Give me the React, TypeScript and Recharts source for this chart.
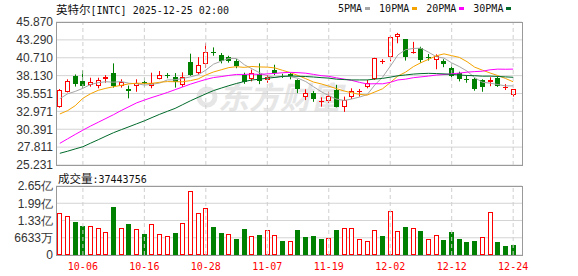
import React from 'react';
import { ComposedChart, BarChart, Bar, Line, XAxis, YAxis, CartesianGrid, ReferenceLine } from 'recharts';

const dates = [
  '10-01','10-02','10-03','10-06','10-07','10-08','10-09','10-10','10-13','10-14',
  '10-15','10-16','10-17','10-20','10-21','10-22','10-23','10-24','10-27','10-28',
  '10-29','10-30','10-31','11-03','11-04','11-05','11-06','11-07','11-10','11-11',
  '11-12','11-13','11-14','11-17','11-18','11-19','11-20','11-21','11-24','11-25',
  '11-26','11-28','12-01','12-02','12-03','12-04','12-05','12-08','12-09','12-10',
  '12-11','12-12','12-15','12-16','12-17','12-18','12-19','12-22','12-23','12-24',
];

const opens = [
  33.65, 35.81, 38.03, 37.35, 36.78, 36.68, 37.7, 38.5, 36.7, 36.15,
  36.6, 37.2, 36.6, 37.7, 38.22, 37.98, 36.8, 40.05, 38.55, 39.75,
  41.55, 41.1, 40.75, 40.2, 38.2, 37.6, 38.4, 37.5, 39.0, 38.12,
  38.4, 37.5, 35.1, 35.6, 34.4, 34.4, 36.1, 33.65, 35.1, 35.7,
  36.45, 37.7, 40.1, 40.8, 43.65, 43.35, 41.35, 42.05, 40.85, 40.4,
  40.2, 39.3, 38.45, 37.6, 37.6, 37.5, 37.25, 37.8, 36.4, 35.35,
];
const highs = [
  36.2, 37.6, 38.3, 38.9, 37.83, 37.83, 38.2, 39.9, 37.6, 36.7,
  37.6, 37.85, 38.55, 38.8, 38.5, 38.5, 38.6, 41.3, 40.8, 42.8,
  42.2, 41.4, 41.0, 40.5, 38.55, 39.0, 39.9, 38.2, 39.7, 38.4,
  38.5, 37.6, 36.15, 35.9, 35.0, 35.8, 36.8, 35.1, 36.3, 36.2,
  37.5, 40.7, 40.5, 43.95, 44.3, 43.4, 43.0, 42.3, 41.25, 41.2,
  40.5, 39.9, 38.7, 38.1, 37.8, 37.6, 37.9, 38.0, 36.9, 36.2,
];
const lows = [
  33.5, 35.7, 36.55, 36.3, 36.53, 36.3, 37.1, 36.4, 36.4, 34.85,
  35.8, 36.5, 36.3, 37.6, 37.75, 36.4, 36.5, 38.1, 38.3, 39.3,
  41.0, 39.9, 40.0, 39.2, 36.95, 37.3, 36.9, 37.1, 38.2, 37.8,
  37.6, 35.6, 34.6, 34.35, 33.65, 34.2, 33.55, 32.9, 34.75, 35.1,
  36.3, 37.5, 39.8, 40.2, 42.8, 40.3, 41.3, 40.0, 40.3, 39.05,
  39.35, 37.9, 37.3, 37.1, 35.95, 35.8, 36.6, 36.5, 36.05, 35.1,
];
const closes = [
  36.06, 37.35, 36.97, 36.68, 37.17, 37.44, 38.0, 36.6, 37.2, 35.9,
  37.1, 37.05, 37.1, 38.15, 38.17, 37.2, 38.0, 38.25, 39.6, 41.6,
  41.45, 40.2, 40.25, 39.5, 37.15, 38.5, 37.3, 38.0, 38.45, 38.05,
  38.1, 36.15, 35.65, 34.75, 34.5, 35.2, 33.65, 34.6, 35.85, 35.85,
  37.0, 40.65, 40.2, 43.65, 44.1, 40.75, 41.55, 40.4, 40.7, 40.9,
  39.75, 38.1, 37.7, 37.45, 36.15, 36.45, 37.5, 36.65, 36.5, 36.15,
];
const volumes = [
  162600000, 149800000, 128000000, 112700000, 111400000, 103700000, 88300000, 185600000, 103700000, 119000000,
  99900000, 81900000, 119000000, 80700000, 73000000, 85800000, 124200000, 245800000, 161300000, 180500000,
  107500000, 85800000, 81900000, 61400000, 99900000, 73000000, 76800000, 96000000, 75500000, 55000000,
  55000000, 96000000, 69100000, 73000000, 61400000, 65300000, 96000000, 102400000, 102400000, 60200000,
  53800000, 96000000, 73000000, 169000000, 92200000, 107500000, 102400000, 92200000, 61400000, 76800000,
  57600000, 88300000, 61400000, 49900000, 53800000, 69100000, 165100000, 49900000, 34600000, 37443756,
];
const ma5 = [
  34.8, 35.5, 35.85, 36.3, 36.85, 37.12, 37.25, 37.18, 37.28, 37.03,
  36.96, 36.77, 36.87, 37.06, 37.51, 37.53, 37.72, 37.95, 38.24, 38.93,
  39.78, 40.22, 40.62, 40.6, 39.71, 39.12, 38.54, 38.09, 37.88, 38.06,
  37.98, 37.75, 37.28, 36.54, 35.83, 35.25, 34.75, 34.54, 34.76, 35.03,
  35.39, 36.79, 37.91, 39.47, 41.12, 41.87, 42.05, 42.09, 41.5, 40.86,
  40.66, 39.97, 39.43, 38.78, 37.83, 37.17, 37.05, 36.84, 36.65, 36.65,
];
const ma10 = [
  32.6, 33.07, 33.79, 34.86, 35.52, 36.01, 36.3, 36.53, 36.73, 36.94,
  37.04, 37.01, 37.02, 37.17, 37.27, 37.25, 37.25, 37.41, 37.65, 38.22,
  38.66, 38.97, 39.29, 39.42, 39.32, 39.45, 39.38, 39.36, 39.24, 38.89,
  38.56, 38.15, 37.69, 37.21, 36.94, 36.61, 36.25, 35.91, 35.65, 35.43,
  35.32, 35.77, 36.23, 37.12, 38.08, 38.63, 39.42, 40.0, 40.49, 40.99,
  41.27, 41.01, 40.76, 40.14, 39.35, 38.92, 38.51, 38.14, 37.72, 37.24,
];
const ma20 = [
  28.36, 29.0, 29.64, 30.26, 30.85, 31.4, 31.95, 32.5, 33.1, 33.65,
  34.2, 34.6, 34.98, 35.33, 35.7, 36.1, 36.5, 36.9, 37.25, 37.58,
  37.85, 37.99, 38.16, 38.3, 38.3, 38.35, 38.31, 38.38, 38.45, 38.55,
  38.6, 38.56, 38.48, 38.31, 38.13, 38.03, 37.81, 37.63, 37.44, 37.16,
  36.93, 36.96, 36.95, 37.16, 37.51, 37.62, 37.83, 37.95, 38.07, 38.21,
  38.29, 38.39, 38.49, 38.63, 38.71, 38.77, 38.97, 39.07, 39.05, 39.07,
];
const ma30 = [
  26.92, 27.22, 27.55, 27.87, 28.38, 28.88, 29.4, 29.9, 30.33, 30.75,
  31.18, 31.6, 32.08, 32.55, 32.98, 33.4, 33.95, 34.5, 35.0, 35.5,
  35.97, 36.33, 36.68, 37.0, 37.28, 37.5, 37.62, 37.75, 37.88, 38.01,
  38.08, 38.04, 38.0, 37.93, 37.84, 37.77, 37.62, 37.56, 37.51, 37.51,
  37.51, 37.63, 37.73, 37.91, 38.11, 38.23, 38.35, 38.42, 38.46, 38.43,
  38.38, 38.31, 38.22, 38.15, 38.12, 38.05, 38.06, 38.01, 37.95, 37.89,
];

const xTicks = ['10-06', '10-16', '10-28', '11-07', '11-19', '12-02', '12-12', '12-24'];
const priceTickLabels = ['25.231', '27.811', '30.391', '32.971', '35.551', '38.130', '40.710', '43.290', '45.870'];
const volTicks = [0, 66330000, 132660000, 198990000, 265320000];
const volTickLabels = ['0', '6633万', '1.33亿', '1.99亿', '2.65亿'];

const title = '英特尔';
const titleRest = '[INTC] 2025-12-25 02:00';
const volLabel = '成交量';
const lastVolume = '37443756';

const UP = '#ff0000';
const DOWN = '#008000';
const series = [
  { key: 'ma5', name: '5PMA', color: '#a6a6a6' },
  { key: 'ma10', name: '10PMA', color: '#f5a300' },
  { key: 'ma20', name: '20PMA', color: '#ff00ff' },
  { key: 'ma30', name: '30PMA', color: '#006a2a' },
];

const priceTicks = priceTickLabels.map(Number);
const data = dates.map((date, i) => ({
  date,
  open: opens[i],
  high: highs[i],
  low: lows[i],
  close: closes[i],
  range: [lows[i], highs[i]],
  vol: volumes[i],
  volUp: i === 0 ? closes[i] >= opens[i] : closes[i] >= closes[i - 1],
  ma5: ma5[i],
  ma10: ma10[i],
  ma20: ma20[i],
  ma30: ma30[i],
}));

const MONO = '"DejaVu Sans Mono", monospace';
const CJK = '"Noto Sans CJK SC", sans-serif';
const SANS = '"Liberation Sans", Arial, sans-serif';

function Candle(props: any) {
  const { x, y, width, height, payload } = props;
  if (x == null || y == null || !payload) return null;
  const top = Math.min(y, y + height);
  const h = Math.abs(height);
  const { open, close, high, low } = payload;
  const span = high - low;
  const py = (p: number) => (span > 0 ? top + ((high - p) / span) * h : top);
  const cx = x + width / 2;
  const left = Math.round(cx - 2.5);
  const wx = left + 2.5;
  const up = close >= open;
  const color = up ? UP : DOWN;
  const bTop = Math.round(py(Math.max(open, close)));
  const bBot = Math.round(py(Math.min(open, close)));
  const yHigh = py(high);
  const yLow = py(low);
  if (bBot - bTop < 2) {
    return (
      <g>
        <line x1={wx} x2={wx} y1={yHigh} y2={yLow} stroke={color} strokeWidth={1} />
        <line x1={left} x2={left + 5} y1={bTop + 0.5} y2={bTop + 0.5} stroke={color} strokeWidth={1} />
      </g>
    );
  }
  if (up) {
    return (
      <g>
        <line x1={wx} x2={wx} y1={yHigh} y2={bTop} stroke={color} strokeWidth={1} />
        <line x1={wx} x2={wx} y1={bBot} y2={yLow} stroke={color} strokeWidth={1} />
        <rect x={left + 0.5} y={bTop + 0.5} width={4} height={bBot - bTop - 1} fill="#fff" stroke={color} strokeWidth={1} />
      </g>
    );
  }
  return (
    <g>
      <line x1={wx} x2={wx} y1={yHigh} y2={yLow} stroke={color} strokeWidth={1} />
      <rect x={left} y={bTop} width={5} height={bBot - bTop} fill={color} />
    </g>
  );
}

function VolBar(props: any) {
  const { x, y, width, height, payload } = props;
  if (x == null || y == null || !payload) return null;
  const top = Math.round(Math.min(y, y + height));
  const bottom = Math.round(Math.max(y, y + height));
  const cx = x + width / 2;
  const left = Math.round(cx - 2.5);
  if (payload.volUp) {
    return <rect x={left + 0.5} y={top + 0.5} width={4} height={Math.max(bottom - top - 1, 0)} fill="#fff" stroke={UP} strokeWidth={1} />;
  }
  return <rect x={left} y={top} width={5} height={bottom - top} fill={DOWN} />;
}

const VolTick = (props: any) => {
  const { x, y, payload } = props;
  const label = volTickLabels[volTicks.indexOf(payload.value)] ?? String(payload.value);
  return (
    <text x={x} y={y} dy="0.355em" textAnchor="end" fontSize={12} fill="#333" fontFamily={SANS}>
      {label}
    </text>
  );
};

export default function App() {
  return (
    <div style={{ position: 'absolute', left: 0, top: 0, width: 578, height: 276, background: '#fff', overflow: 'hidden' }}>
      {/* watermark */}
      <svg width={578} height={276} style={{ position: 'absolute', left: 0, top: 0 }}>
        <circle cx={207} cy={97} r={8} fill="none" stroke="#e6e6e6" strokeWidth={5} />
        <text x={218} y={109} fontSize={31} fontWeight="bold" fontStyle="italic" fill="#e6e6e6" fontFamily={CJK}>
          东方财富
        </text>
      </svg>

      <div style={{ position: 'absolute', left: 0, top: 0 }}>
        <ComposedChart width={578} height={176} data={data} margin={{ top: 22, right: 56, bottom: 11, left: 0 }}>
          <CartesianGrid vertical={false} stroke="#d4d4d4" />
          {xTicks.map((t) => (
            <ReferenceLine key={t} x={t} stroke="#cfcfcf" strokeDasharray="4 3" />
          ))}
          <XAxis dataKey="date" hide padding={{ left: 0, right: 5 }} />
          <YAxis
            domain={[priceTicks[0], priceTicks[priceTicks.length - 1]]}
            ticks={priceTicks}
            tickFormatter={(v: number) => priceTickLabels[priceTicks.indexOf(v)] ?? String(v)}
            width={56}
            axisLine={false}
            tickLine={false}
            tickSize={0}
            tickMargin={3}
            interval={0}
            tick={{ fontSize: 12, fill: '#333', fontFamily: SANS }}
          />
          {series.map((s) => (
            <Line
              key={s.key}
              type="linear"
              dataKey={s.key}
              stroke={s.color}
              strokeWidth={1}
              dot={false}
              activeDot={false}
              isAnimationActive={false}
            />
          ))}
          <Bar dataKey="range" shape={<Candle />} isAnimationActive={false} />
        </ComposedChart>
      </div>

      <div style={{ position: 'absolute', left: 0, top: 170 }}>
        <BarChart width={578} height={106} data={data} margin={{ top: 16, right: 56, bottom: 0, left: 0 }}>
          <CartesianGrid vertical={false} stroke="#d4d4d4" />
          {xTicks.map((t) => (
            <ReferenceLine key={t} x={t} stroke="#cfcfcf" strokeDasharray="4 3" />
          ))}
          <XAxis
            dataKey="date"
            ticks={xTicks}
            interval={0}
            height={21}
            padding={{ left: 0, right: 5 }}
            axisLine={false}
            tickLine={false}
            tick={{ fontSize: 10, fill: '#ff0000', fontFamily: MONO }}
          />
          <YAxis
            domain={[0, volTicks[volTicks.length - 1]]}
            ticks={volTicks}
            width={56}
            axisLine={false}
            tickLine={false}
            tickSize={0}
            tickMargin={3}
            interval={0}
            tick={<VolTick />}
          />
          <Bar dataKey="vol" shape={<VolBar />} isAnimationActive={false} />
        </BarChart>
      </div>

      {/* plot borders */}
      <div style={{ position: 'absolute', left: 56, top: 22, width: 467, height: 144, boxSizing: 'border-box', border: '1px solid #9a9a9a', pointerEvents: 'none' }} />
      <div style={{ position: 'absolute', left: 56, top: 186, width: 467, height: 70, boxSizing: 'border-box', border: '1px solid #9a9a9a', pointerEvents: 'none' }} />

      {/* title */}
      <div style={{ position: 'absolute', left: 56, top: 0, height: 17, lineHeight: '17px', whiteSpace: 'nowrap', color: '#111' }}>
        <span style={{ fontFamily: CJK, fontSize: 11.5 }}>{title}</span>
        <span style={{ fontFamily: MONO, fontSize: 10 }}>{titleRest}</span>
      </div>

      {/* legend */}
      <div style={{ position: 'absolute', left: 338, top: 0, height: 17, display: 'flex', alignItems: 'center', whiteSpace: 'nowrap' }}>
        {series.map((s) => (
          <div key={s.key} style={{ display: 'flex', alignItems: 'center', marginRight: 9 }}>
            <span style={{ fontFamily: MONO, fontSize: 10, color: '#111', lineHeight: '17px' }}>{s.name}</span>
            <span style={{ display: 'inline-block', width: 5, height: 3, background: s.color, marginLeft: 3 }} />
          </div>
        ))}
      </div>

      {/* volume label */}
      <div style={{ position: 'absolute', left: 58, top: 169, height: 17, lineHeight: '17px', whiteSpace: 'nowrap', color: '#111' }}>
        <span style={{ fontFamily: CJK, fontSize: 11.5 }}>{volLabel}</span>
        <span style={{ fontFamily: MONO, fontSize: 10 }}>:{lastVolume}</span>
      </div>
    </div>
  );
}
